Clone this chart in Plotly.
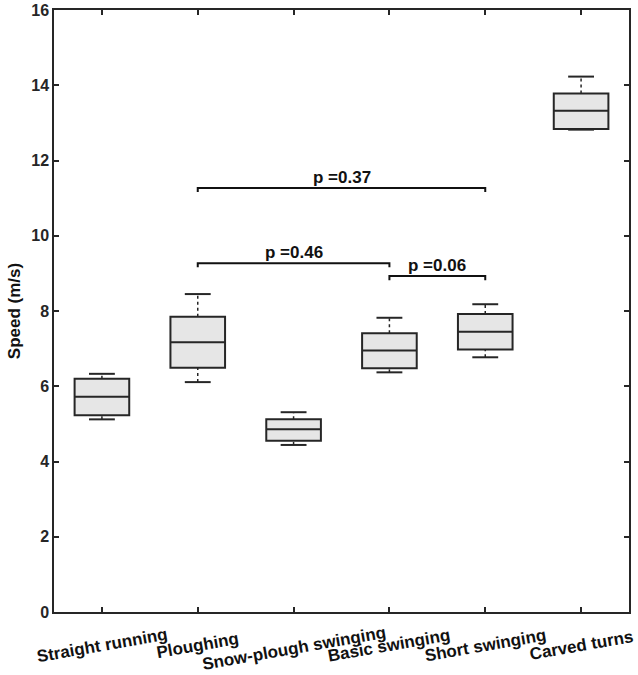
import plotly.graph_objects as go

# Speed per skiing technique (m/s)
techniques = ["Straight running", "Ploughing", "Snow-plough swinging",
              "Basic swinging", "Short swinging", "Carved turns"]
lower_whisker = [5.12, 6.11, 4.44, 6.37, 6.77, 12.82]
q1 = [5.23, 6.49, 4.55, 6.48, 6.98, 12.84]
median = [5.72, 7.17, 4.86, 6.95, 7.45, 13.32]
q3 = [6.20, 7.85, 5.12, 7.41, 7.92, 13.78]
upper_whisker = [6.33, 8.45, 5.31, 7.82, 8.18, 14.23]

# significance brackets: (from group, to group, height, label)
bracket_from = [2, 2, 4]
bracket_to = [5, 4, 5]
bracket_height = [11.27, 9.27, 8.93]
bracket_label = ["p =0.37", "p =0.46", "p =0.06"]

FONT = "Arial, Liberation Sans, sans-serif"
INK = "#262626"
BOX_W = 0.57
CAP_W = 0.27
TICK_DROP = 0.11

xpos = list(range(1, len(techniques) + 1))

fig = go.Figure()

# boxes (whiskers are drawn separately, dotted like the original)
fig.add_trace(go.Box(
    x=xpos, q1=q1, median=median, q3=q3,
    lowerfence=q1, upperfence=q3,
    width=BOX_W, fillcolor="#e6e6e6",
    line=dict(color=INK, width=2),
    boxpoints=False, hoverinfo="skip", showlegend=False,
))

wx, wy, cx, cy = [], [], [], []
for x, lo, a, b, hi in zip(xpos, lower_whisker, q1, q3, upper_whisker):
    wx += [x, x, None, x, x, None]
    wy += [b, hi, None, lo, a, None]
    cx += [x - CAP_W / 2, x + CAP_W / 2, None, x - CAP_W / 2, x + CAP_W / 2, None]
    cy += [hi, hi, None, lo, lo, None]

fig.add_trace(go.Scatter(x=wx, y=wy, mode="lines",
                         line=dict(color=INK, width=1.5, dash="dot"),
                         hoverinfo="skip", showlegend=False))
fig.add_trace(go.Scatter(x=cx, y=cy, mode="lines",
                         line=dict(color=INK, width=2),
                         hoverinfo="skip", showlegend=False))

# brackets
bx, by = [], []
for a, b, h in zip(bracket_from, bracket_to, bracket_height):
    bx += [a, a, b, b, None]
    by += [h - TICK_DROP, h, h, h - TICK_DROP, None]
fig.add_trace(go.Scatter(x=bx, y=by, mode="lines",
                         line=dict(color="#111111", width=2),
                         hoverinfo="skip", showlegend=False))

annotations = []
for a, b, h, txt in zip(bracket_from, bracket_to, bracket_height, bracket_label):
    annotations.append(dict(
        x=(a + b) / 2, y=h, xref="x", yref="y", text=txt, showarrow=False,
        yanchor="bottom", yshift=-1,
        font=dict(family=FONT, size=17, color="#111111", weight="bold"),
    ))

# rotated category labels under the axis
for x, name in zip(xpos, techniques):
    annotations.append(dict(
        x=x, y=0, xref="x", yref="paper", text=name, showarrow=False,
        textangle=-10, xanchor="center", yanchor="middle",
        yshift=-36 if name.startswith("Snow") else -33,
        font=dict(family=FONT, size=17, color="#111111", weight="bold"),
    ))

fig.update_layout(
    width=638, height=675,
    margin=dict(l=54, r=9, t=10, b=63),
    paper_bgcolor="white", plot_bgcolor="white",
    font=dict(family=FONT, size=16, color=INK, weight="bold"),
    annotations=annotations,
)
fig.update_xaxes(
    range=[0.5, 6.5], tickvals=xpos, showticklabels=False,
    ticks="inside", ticklen=5, tickwidth=1.5, tickcolor=INK,
    showline=True, linecolor=INK, linewidth=1.5, mirror="allticks",
    showgrid=False, zeroline=False, automargin=False,
)
fig.update_yaxes(
    range=[0, 16], dtick=2,
    ticks="inside", ticklen=5, tickwidth=1.5, tickcolor=INK,
    showline=True, linecolor=INK, linewidth=1.5, mirror="allticks",
    showgrid=False, zeroline=False, automargin=False,
    title=dict(text="Speed (m/s)", standoff=6,
               font=dict(family=FONT, size=17, color="#111111", weight="bold")),
)

# drop the browser's default body margin so the figure fills the window
fig.write_html("out.html", config={"displayModeBar": False},
               post_script="document.body.style.margin = '0';")
